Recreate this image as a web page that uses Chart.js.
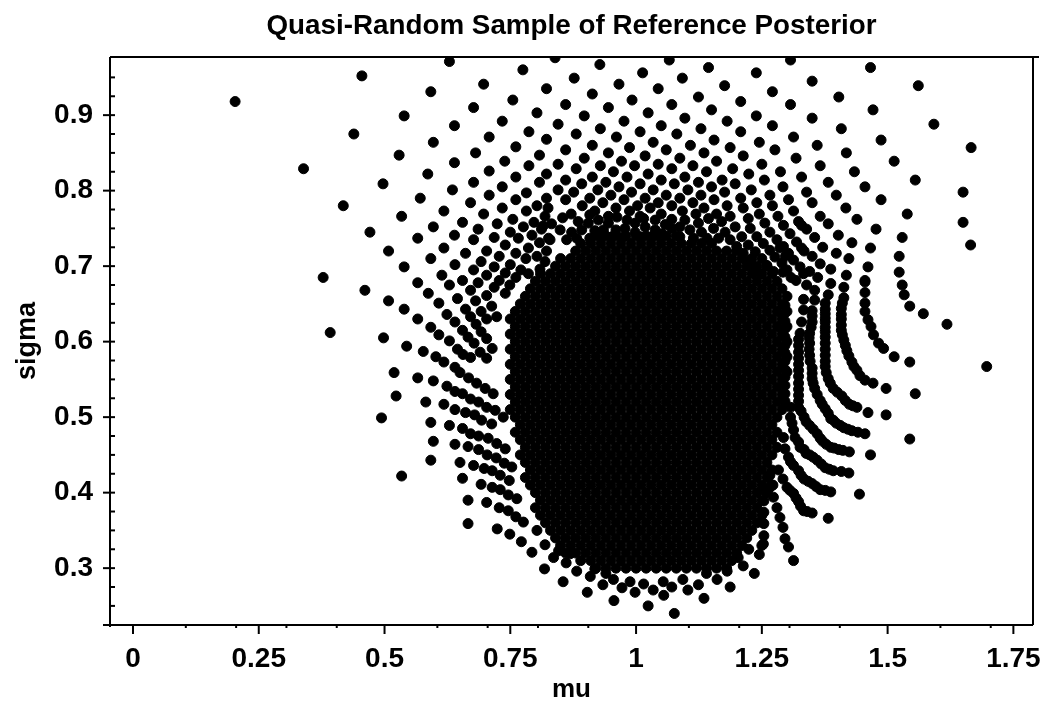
<!DOCTYPE html>
<html>
<head>
<meta charset="utf-8">
<style>
  html, body { margin: 0; padding: 0; background: #fff; }
  #wrap { width: 1048px; height: 703px; }
</style>
<script src="https://cdn.jsdelivr.net/npm/chart.js@4/dist/chart.umd.min.js"></script>
</head>
<body>
<div id="wrap"><canvas id="posteriorChart" width="1048" height="703"></canvas></div>
<script>
// axis ticks
const xMajorTicks = [0, 0.25, 0.5, 0.75, 1, 1.25, 1.5, 1.75];
const xMinorTicks = [0.105, 0.205, 0.305, 0.405, 0.605, 0.705, 0.805, 0.905, 1.105, 1.205, 1.305, 1.405, 1.605, 1.705];
const yMajorTicks = [0.3, 0.4, 0.5, 0.6, 0.7, 0.8, 0.9];
const yMinorTicks = [0.25, 0.275, 0.325, 0.35, 0.375, 0.425, 0.45, 0.475, 0.525, 0.55, 0.575, 0.625, 0.65, 0.675, 0.725, 0.75, 0.775, 0.825, 0.85, 0.875, 0.925, 0.95];

// upper left fringe
const muUpperLeft = [.203,.455,.629,.775,.697,.822,.592,.755,.677,.803,.539,.734,.639,.787,.439,.708,.822,.597,.761,.681,.529,.808,.739,.639,.787,.339,.708,.586,.822,.761,.677,.808,.497,.734,.635,.782,.708,.571,.761,.822,.671,.418,.734,.803,.782,.618,.697,.534,.819,.755,.797,.655,.724,.597,.776,.686,.812,.471,.750,.793,.639,.718,.566,.766,.677];
const sigmaUpperLeft = [.918,.952,.971,.960,.941,.935,.931,.920,.910,.903,.899,.892,.886,.878,.875,.871,.868,.864,.858,.850,.847,.847,.839,.837,.833,.829,.826,.822,.822,.818,.811,.811,.809,.805,.801,.797,.794,.790,.788,.790,.784,.780,.777,.780,.773,.773,.769,.766,.766,.762,.758,.758,.756,.752,.752,.749,.749,.745,.745,.741,.741,.738,.737,.737,.735];

// upper right fringe
const muUpperRight = [.839,.928,1.066,1.144,1.307,1.466,1.239,1.013,.877,1.092,1.350,.966,1.176,1.561,1.044,1.271,.913,1.403,1.124,.992,1.208,.860,1.071,1.307,.945,1.471,1.150,1.024,.897,1.239,1.097,1.350,.976,1.181,.845,1.592,1.050,1.271,.929,1.129,1.408,1.208,1.008,.881,1.081,.961,1.313,1.155,1.487,1.034,1.245,.913,1.108,1.360,1.666,.987,1.187,.860,1.060,1.276,.945,1.135,1.418,1.018,1.213,.897,1.087,1.318,.971,1.160,1.513,1.044,1.250,.845,.929,1.113,1.366,.997,1.192,.881,1.071,1.434,1.287,.955,1.140,1.024,1.224,.913,1.097,.982,1.329,1.171,1.050,1.555,.860,1.382,1.255,.940,1.124,1.008,1.076,1.197,.892,1.150,1.455,1.292,1.229,.966,1.034,.845,1.103,.924,1.176,1.339,1.650,.991,1.060,.876,1.398,1.266,1.129,.950,1.208,1.018,.908,1.155,1.487,1.303,1.087,.976,.860,1.044,1.240,1.350,1.113,.934,1.181,1.003,1.071,.893,1.417,.960,1.135,1.271,1.213,1.313,1.539,1.028,1.092,.918,.987,.871,1.160,1.245,1.050,1.366,1.119,.945,1.187,1.008,1.650,1.282,1.439,1.071];
const sigmaUpperRight = [.976,.967,.973,.963,.973,.963,.956,.956,.949,.949,.945,.941,.939,.939,.935,.931,.928,.924,.924,.920,.918,.914,.914,.914,.910,.907,.907,.903,.899,.899,.896,.896,.892,.892,.888,.888,.886,.886,.882,.882,.882,.878,.878,.875,.875,.871,.871,.867,.867,.864,.864,.860,.860,.860,.857,.857,.857,.854,.854,.854,.850,.850,.850,.846,.846,.843,.843,.843,.839,.839,.839,.835,.835,.835,.833,.833,.833,.833,.829,.829,.829,.825,.825,.825,.825,.822,.822,.818,.818,.818,.818,.814,.814,.814,.814,.811,.814,.811,.811,.809,.809,.809,.809,.805,.805,.805,.801,.805,.801,.801,.801,.801,.798,.798,.798,.798,.794,.798,.794,.794,.794,.794,.790,.790,.790,.788,.788,.788,.790,.788,.788,.784,.784,.784,.784,.784,.780,.780,.780,.780,.777,.777,.777,.780,.777,.773,.769,.777,.773,.773,.773,.769,.769,.769,.769,.766,.769,.766,.766,.766,.758,.766,.762,.762];

// band just above the solid mass
const muTopBand = [.825,.854,.908,.885,.832,.925,.815,.849,.872,.905,.892,.918,.962,.982,.945,.935,.960,1.015,.998,.978,1.038,1.018,.998,1.058,1.038,.826,.862,.882,.908,.932,.952,.975,1.008,1.031,1.051,1.071,1.223,1.256,1.097,1.124,1.144,1.170,1.087,1.107,1.130,1.154,1.177,1.197,1.227,1.266,1.293,1.329,1.306,1.240,1.210,1.187,1.164,1.141,1.114,1.087,1.280,1.319,1.253,1.223,1.200,1.293,1.266,1.237,1.213,1.329,1.303,1.276,1.250,1.227,1.313,1.290,1.260,1.237,1.326,1.300,1.273,1.247,1.333];
const sigmaTopBand = [.777,.764,.768,.759,.756,.761,.753,.748,.745,.757,.748,.747,.765,.761,.757,.748,.748,.763,.757,.750,.761,.752,.745,.755,.748,.737,.735,.737,.737,.739,.739,.739,.739,.739,.743,.750,.763,.757,.761,.757,.763,.759,.752,.748,.745,.750,.745,.752,.750,.745,.754,.754,.743,.739,.739,.735,.737,.737,.737,.739,.735,.732,.730,.728,.726,.726,.721,.719,.717,.724,.717,.712,.710,.708,.708,.704,.701,.699,.699,.695,.693,.690,.690];

// left fringe
const muLeft = [.508,.740,.618,.661,.703,.829,.808,.786,.822,.761,.728,.803,.592,.692,.781,.819,.640,.750,.718,.539,.677,.771,.740,.809,.786,.703,.614,.378,.655,.728,.761,.686,.566,.629,.749,.718,.671,.461,.587,.703,.645,.740,.681,.608,.508,.713,.539,.661,.692,.624,.671,.723,.566,.703,.640,.682,.592,.655,.692,.392,.608,.666,.703,.498,.629,.678,.544,.645,.714,.577,.656,.690,.602,.671,.703,.618,.640,.650,.667,.683,.700,.716,.519,.566,.597,.624,.640,.655,.671,.687,.703,.720,.736,.523,.582,.618,.640,.661,.679,.693,.713,.494,.592,.629,.655,.671,.687,.706,.723,.740,.597,.640,.666,.687,.704,.722,.738,.753,.592,.650,.677,.698,.714,.730,.748,.534,.655,.692,.714,.730,.746,.763,.666,.703,.728,.746,.761,.776,.666,.724,.749,.772,.793,.819,.836];
const sigmaLeft = [.720,.728,.724,.717,.720,.735,.731,.724,.720,.717,.713,.713,.710,.706,.710,.706,.702,.702,.699,.699,.695,.695,.691,.696,.690,.688,.688,.685,.681,.681,.685,.678,.678,.675,.675,.672,.668,.668,.664,.661,.657,.664,.654,.651,.654,.647,.643,.643,.640,.636,.633,.633,.630,.630,.626,.623,.619,.615,.613,.612,.609,.606,.604,.605,.601,.598,.594,.590,.591,.587,.583,.586,.580,.579,.578,.573,.566,.559,.552,.545,.538,.531,.559,.552,.548,.541,.534,.531,.524,.520,.513,.509,.500,.528,.520,.517,.510,.506,.503,.496,.491,.499,.493,.489,.485,.478,.475,.472,.465,.458,.468,.464,.461,.457,.450,.446,.439,.434,.443,.440,.436,.432,.429,.423,.416,.422,.419,.411,.407,.404,.397,.392,.390,.387,.380,.376,.368,.361,.359,.352,.345,.335,.321,.331,.314];

// bottom edge
const muBottom = [.818,.855,.861,.882,.903,.909,.934,.956,.972,.998,1.024,1.034,1.055,1.076,1.071,1.103,1.124,1.135,1.161,1.187,1.181,1.213,1.235,1.203,1.245,1.224,1.253,1.313,1.303,1.296,1.140,1.093,1.054,1.015,.988,.955,.940,.803,.846,.869,.918];
const sigmaBottom = [.299,.282,.307,.296,.268,.289,.278,.257,.274,.268,.250,.271,.264,.240,.275,.271,.278,.260,.285,.275,.296,.303,.293,.314,.318,.325,.332,.310,.328,.339,.293,.285,.282,.279,.282,.285,.293,.350,.323,.319,.299];

// right arcs
const muRight = [1.697,1.618,1.571,1.544,1.533,1.529,1.455,1.455,1.455,1.455,1.461,1.467,1.472,1.482,1.492,1.513,1.544,1.413,1.413,1.408,1.408,1.408,1.413,1.419,1.429,1.439,1.455,1.471,1.497,1.555,1.497,1.461,1.439,1.424,1.409,1.392,1.382,1.376,1.376,1.376,1.376,1.376,1.376,1.376,1.382,1.387,1.355,1.355,1.339,1.350,1.350,1.345,1.345,1.345,1.350,1.350,1.355,1.366,1.376,1.387,1.398,1.413,1.429,1.455,1.544,1.466,1.424,1.403,1.387,1.371,1.360,1.345,1.334,1.323,1.323,1.323,1.323,1.323,1.323,1.326,1.329,1.333,1.423,1.392,1.376,1.360,1.345,1.334,1.323,1.313,1.307,1.307,1.444,1.387,1.366,1.350,1.334,1.323,1.313,1.303,1.296,1.293,1.382,1.350,1.333,1.323,1.313,1.300,1.292,1.283,1.292,1.286,1.280,1.273,1.266,1.254,1.254,1.254,1.250];
const sigmaRight = [.567,.623,.637,.647,.662,.675,.679,.665,.651,.640,.629,.620,.609,.598,.591,.580,.573,.672,.658,.644,.630,.615,.602,.588,.573,.562,.549,.545,.538,.531,.503,.506,.513,.517,.528,.538,.551,.567,.582,.598,.613,.626,.637,.651,.662,.677,.655,.668,.675,.641,.626,.611,.598,.582,.565,.551,.538,.522,.511,.498,.492,.486,.482,.478,.471,.450,.454,.457,.460,.468,.478,.489,.500,.513,.529,.545,.562,.578,.595,.611,.626,.642,.426,.429,.433,.443,.450,.457,.467,.483,.500,.513,.398,.401,.404,.412,.418,.429,.436,.447,.458,.473,.366,.373,.376,.388,.399,.407,.418,.430,.354,.367,.380,.394,.407,.343,.359,.374,.330];

// more dots along the right arcs, they touch in the picture
const muArcs = [1.410,1.408,1.408,1.410,1.416,1.423,1.433,1.445,1.376,1.376,1.376,1.376,1.376,1.376,1.378,1.386,1.400,1.416,1.431,1.350,1.348,1.344,1.344,1.346,1.350,1.352,1.360,1.370,1.382,1.392,1.406,1.421,1.441,1.323,1.323,1.323,1.323,1.323,1.323,1.328,1.338,1.352,1.366,1.378,1.394,1.411,1.296,1.296,1.296,1.296,1.296,1.296,1.296,1.296,1.296,1.296,1.296,1.296,1.296,1.310,1.316,1.326,1.338,1.352,1.368,1.384,1.408,1.307,1.328,1.342,1.358,1.376,1.306,1.318,1.327,1.340,1.254,1.254,1.266,1.272];
const sigmaArcs = [.651,.636,.622,.609,.595,.581,.567,.555,.643,.631,.619,.606,.590,.574,.559,.545,.533,.522,.515,.634,.619,.605,.590,.574,.558,.545,.530,.517,.505,.496,.489,.484,.480,.603,.586,.570,.554,.537,.521,.508,.494,.484,.472,.464,.459,.456,.648,.638,.627,.617,.606,.595,.585,.574,.563,.553,.542,.531,.521,.492,.473,.460,.452,.447,.438,.431,.428,.441,.423,.415,.408,.403,.403,.393,.382,.375,.389,.403,.423,.410];

// upper right, outer dots
const muOuter = [1.665,1.382,1.323,1.477,1.402,1.529,1.339,1.355,1.429,1.371,1.466,1.334,1.398,1.523,1.286,1.350,1.423,1.297,1.366,1.461,1.387,1.523,1.345,1.292,1.308,1.361,1.418,1.455,1.318,1.333];
const sigmaOuter = [.728,.756,.759,.749,.741,.738,.749,.738,.731,.725,.724,.720,.717,.713,.724,.713,.710,.713,.703,.699,.696,.692,.693,.692,.685,.685,.688,.681,.681,.656];

// solid mass, one row of mu values per sigma level
const coreSigma = [.74,.73,.72,.71,.70,.69,.68,.67,.66,.65,.64,.63,.62,.61,.60,.59,.58,.57,.56,.55,.54,.53,.52,.51,.50,.49,.48,.47,.46,.45,.44,.43,.42,.41,.40,.39,.38,.37,.36,.35,.34,.33,.32,.31,.30];
const coreMu = [
  [.92,.94,.96,.98,1,1.02,1.04,1.06,1.08],
  [.89,.91,.93,.95,.97,.99,1.01,1.03,1.05,1.07,1.09,1.11,1.13,1.15],
  [.88,.9,.92,.94,.96,.98,1,1.02,1.04,1.06,1.08,1.1,1.12,1.14,1.16,1.18,1.2],
  [.85,.87,.89,.91,.93,.95,.97,.99,1.01,1.03,1.05,1.07,1.09,1.11,1.13,1.15,1.17,1.19,1.21,1.23],
  [.84,.86,.88,.9,.92,.94,.96,.98,1,1.02,1.04,1.06,1.08,1.1,1.12,1.14,1.16,1.18,1.2,1.22,1.24,1.26],
  [.81,.83,.85,.87,.89,.91,.93,.95,.97,.99,1.01,1.03,1.05,1.07,1.09,1.11,1.13,1.15,1.17,1.19,1.21,1.23,1.25,1.27],
  [.8,.82,.84,.86,.88,.9,.92,.94,.96,.98,1,1.02,1.04,1.06,1.08,1.1,1.12,1.14,1.16,1.18,1.2,1.22,1.24,1.26,1.28],
  [.79,.81,.83,.85,.87,.89,.91,.93,.95,.97,.99,1.01,1.03,1.05,1.07,1.09,1.11,1.13,1.15,1.17,1.19,1.21,1.23,1.25,1.27,1.29],
  [.78,.8,.82,.84,.86,.88,.9,.92,.94,.96,.98,1,1.02,1.04,1.06,1.08,1.1,1.12,1.14,1.16,1.18,1.2,1.22,1.24,1.26,1.28,1.3],
  [.77,.79,.81,.83,.85,.87,.89,.91,.93,.95,.97,.99,1.01,1.03,1.05,1.07,1.09,1.11,1.13,1.15,1.17,1.19,1.21,1.23,1.25,1.27,1.29],
  [.76,.78,.8,.82,.84,.86,.88,.9,.92,.94,.96,.98,1,1.02,1.04,1.06,1.08,1.1,1.12,1.14,1.16,1.18,1.2,1.22,1.24,1.26,1.28,1.3],
  [.75,.77,.79,.81,.83,.85,.87,.89,.91,.93,.95,.97,.99,1.01,1.03,1.05,1.07,1.09,1.11,1.13,1.15,1.17,1.19,1.21,1.23,1.25,1.27,1.29],
  [.76,.78,.8,.82,.84,.86,.88,.9,.92,.94,.96,.98,1,1.02,1.04,1.06,1.08,1.1,1.12,1.14,1.16,1.18,1.2,1.22,1.24,1.26,1.28,1.3],
  [.75,.77,.79,.81,.83,.85,.87,.89,.91,.93,.95,.97,.99,1.01,1.03,1.05,1.07,1.09,1.11,1.13,1.15,1.17,1.19,1.21,1.23,1.25,1.27,1.29],
  [.76,.78,.8,.82,.84,.86,.88,.9,.92,.94,.96,.98,1,1.02,1.04,1.06,1.08,1.1,1.12,1.14,1.16,1.18,1.2,1.22,1.24,1.26,1.28,1.3],
  [.75,.77,.79,.81,.83,.85,.87,.89,.91,.93,.95,.97,.99,1.01,1.03,1.05,1.07,1.09,1.11,1.13,1.15,1.17,1.19,1.21,1.23,1.25,1.27,1.29],
  [.76,.78,.8,.82,.84,.86,.88,.9,.92,.94,.96,.98,1,1.02,1.04,1.06,1.08,1.1,1.12,1.14,1.16,1.18,1.2,1.22,1.24,1.26,1.28,1.3],
  [.75,.77,.79,.81,.83,.85,.87,.89,.91,.93,.95,.97,.99,1.01,1.03,1.05,1.07,1.09,1.11,1.13,1.15,1.17,1.19,1.21,1.23,1.25,1.27,1.29],
  [.76,.78,.8,.82,.84,.86,.88,.9,.92,.94,.96,.98,1,1.02,1.04,1.06,1.08,1.1,1.12,1.14,1.16,1.18,1.2,1.22,1.24,1.26,1.28,1.3],
  [.75,.77,.79,.81,.83,.85,.87,.89,.91,.93,.95,.97,.99,1.01,1.03,1.05,1.07,1.09,1.11,1.13,1.15,1.17,1.19,1.21,1.23,1.25,1.27,1.29],
  [.76,.78,.8,.82,.84,.86,.88,.9,.92,.94,.96,.98,1,1.02,1.04,1.06,1.08,1.1,1.12,1.14,1.16,1.18,1.2,1.22,1.24,1.26,1.28],
  [.75,.77,.79,.81,.83,.85,.87,.89,.91,.93,.95,.97,.99,1.01,1.03,1.05,1.07,1.09,1.11,1.13,1.15,1.17,1.19,1.21,1.23,1.25,1.27,1.29],
  [.76,.78,.8,.82,.84,.86,.88,.9,.92,.94,.96,.98,1,1.02,1.04,1.06,1.08,1.1,1.12,1.14,1.16,1.18,1.2,1.22,1.24,1.26,1.28],
  [.75,.77,.79,.81,.83,.85,.87,.89,.91,.93,.95,.97,.99,1.01,1.03,1.05,1.07,1.09,1.11,1.13,1.15,1.17,1.19,1.21,1.23,1.25,1.27,1.29],
  [.76,.78,.8,.82,.84,.86,.88,.9,.92,.94,.96,.98,1,1.02,1.04,1.06,1.08,1.1,1.12,1.14,1.16,1.18,1.2,1.22,1.24,1.26,1.28],
  [.77,.79,.81,.83,.85,.87,.89,.91,.93,.95,.97,.99,1.01,1.03,1.05,1.07,1.09,1.11,1.13,1.15,1.17,1.19,1.21,1.23,1.25,1.27],
  [.76,.78,.8,.82,.84,.86,.88,.9,.92,.94,.96,.98,1,1.02,1.04,1.06,1.08,1.1,1.12,1.14,1.16,1.18,1.2,1.22,1.24,1.26,1.28],
  [.77,.79,.81,.83,.85,.87,.89,.91,.93,.95,.97,.99,1.01,1.03,1.05,1.07,1.09,1.11,1.13,1.15,1.17,1.19,1.21,1.23,1.25,1.27],
  [.78,.8,.82,.84,.86,.88,.9,.92,.94,.96,.98,1,1.02,1.04,1.06,1.08,1.1,1.12,1.14,1.16,1.18,1.2,1.22,1.24,1.26,1.28],
  [.77,.79,.81,.83,.85,.87,.89,.91,.93,.95,.97,.99,1.01,1.03,1.05,1.07,1.09,1.11,1.13,1.15,1.17,1.19,1.21,1.23,1.25,1.27],
  [.78,.8,.82,.84,.86,.88,.9,.92,.94,.96,.98,1,1.02,1.04,1.06,1.08,1.1,1.12,1.14,1.16,1.18,1.2,1.22,1.24,1.26],
  [.79,.81,.83,.85,.87,.89,.91,.93,.95,.97,.99,1.01,1.03,1.05,1.07,1.09,1.11,1.13,1.15,1.17,1.19,1.21,1.23,1.25,1.27],
  [.78,.8,.82,.84,.86,.88,.9,.92,.94,.96,.98,1,1.02,1.04,1.06,1.08,1.1,1.12,1.14,1.16,1.18,1.2,1.22,1.24,1.26],
  [.79,.81,.83,.85,.87,.89,.91,.93,.95,.97,.99,1.01,1.03,1.05,1.07,1.09,1.11,1.13,1.15,1.17,1.19,1.21,1.23,1.25,1.27],
  [.8,.82,.84,.86,.88,.9,.92,.94,.96,.98,1,1.02,1.04,1.06,1.08,1.1,1.12,1.14,1.16,1.18,1.2,1.22,1.24,1.26],
  [.81,.83,.85,.87,.89,.91,.93,.95,.97,.99,1.01,1.03,1.05,1.07,1.09,1.11,1.13,1.15,1.17,1.19,1.21,1.23,1.25],
  [.8,.82,.84,.86,.88,.9,.92,.94,.96,.98,1,1.02,1.04,1.06,1.08,1.1,1.12,1.14,1.16,1.18,1.2,1.22,1.24],
  [.81,.83,.85,.87,.89,.91,.93,.95,.97,.99,1.01,1.03,1.05,1.07,1.09,1.11,1.13,1.15,1.17,1.19,1.21,1.23,1.25],
  [.82,.84,.86,.88,.9,.92,.94,.96,.98,1,1.02,1.04,1.06,1.08,1.1,1.12,1.14,1.16,1.18,1.2,1.22,1.24],
  [.83,.85,.87,.89,.91,.93,.95,.97,.99,1.01,1.03,1.05,1.07,1.09,1.11,1.13,1.15,1.17,1.19,1.21,1.23],
  [.84,.86,.88,.9,.92,.94,.96,.98,1,1.02,1.04,1.06,1.08,1.1,1.12,1.14,1.16,1.18,1.2,1.22],
  [.85,.87,.89,.91,.93,.95,.97,.99,1.01,1.03,1.05,1.07,1.09,1.11,1.13,1.15,1.17,1.19,1.21],
  [.86,.88,.9,.92,.94,.96,.98,1,1.02,1.04,1.06,1.08,1.1,1.12,1.14,1.16,1.18,1.2],
  [.89,.91,.93,.95,.97,.99,1.01,1.03,1.05,1.07,1.09,1.11,1.13,1.15,1.17,1.19],
  [.92,.94,.96,.98,1,1.02,1.04,1.06,1.08,1.1,1.12,1.14,1.16,1.18]
];

// Build the point list from the arrays above
const points = [];
const groups = [
  [muUpperLeft, sigmaUpperLeft], [muUpperRight, sigmaUpperRight], [muTopBand, sigmaTopBand],
  [muLeft, sigmaLeft], [muBottom, sigmaBottom], [muRight, sigmaRight], [muArcs, sigmaArcs], [muOuter, sigmaOuter]
];
groups.forEach(([mu, sigma]) => {
  mu.forEach((m, i) => points.push({ x: m, y: sigma[i] }));
});
coreSigma.forEach((s, i) => {
  coreMu[i].forEach(m => points.push({ x: m, y: s }));
});

// Frame and tick marks, placed through the chart's own scales
const axisFrame = {
  id: 'axisFrame',
  afterDatasetsDraw(chart) {
    const { ctx, chartArea: a, scales: { x, y } } = chart;
    ctx.save();
    ctx.strokeStyle = '#000';
    ctx.lineWidth = 2;
    const line = (x1, y1, x2, y2) => {
      ctx.beginPath();
      ctx.moveTo(x1, y1);
      ctx.lineTo(x2, y2);
      ctx.stroke();
    };
    line(a.left, a.top, a.right + 6, a.top);
    line(a.right, a.top, a.right, a.bottom);
    line(a.left - 7, a.bottom, a.right, a.bottom);
    line(a.left, a.top, a.left, a.bottom + 2);
    xMajorTicks.forEach(v => line(x.getPixelForValue(v), a.bottom, x.getPixelForValue(v), a.bottom + 9));
    xMinorTicks.forEach(v => line(x.getPixelForValue(v), a.bottom, x.getPixelForValue(v), a.bottom + 3));
    yMajorTicks.forEach(v => line(a.left - 7, y.getPixelForValue(v), a.left + 5, y.getPixelForValue(v)));
    yMinorTicks.forEach(v => line(a.left, y.getPixelForValue(v), a.left + 5, y.getPixelForValue(v)));
    ctx.restore();
  }
};

new Chart(document.getElementById('posteriorChart'), {
  type: 'scatter',
  data: {
    datasets: [{
      data: points,
      backgroundColor: '#000000',
      borderColor: '#000000',
      borderWidth: 1,
      pointRadius: 5,
      pointStyle: 'circle'
    }]
  },
  options: {
    responsive: false,
    animation: false,
    layout: { padding: { right: 15 } },
    plugins: {
      legend: { display: false },
      tooltip: { enabled: false },
      title: {
        display: true,
        fullSize: false,
        text: 'Quasi\u2011Random Sample of Reference Posterior',
        color: '#000000',
        font: { family: '"Liberation Sans", Arial, sans-serif', size: 27.8, weight: 'bold', lineHeight: 1 },
        padding: { top: 12, bottom: 17.2 }
      }
    },
    scales: {
      x: {
        type: 'linear',
        min: -0.0457,
        max: 1.789,
        grid: { display: false, drawTicks: false },
        border: { display: false },
        afterFit: scale => { scale.height = 78; scale.paddingLeft = 0; scale.paddingRight = 0; },
        afterBuildTicks: scale => { scale.ticks = xMajorTicks.map(v => ({ value: v })); },
        ticks: {
          color: '#000000',
          padding: 17,
          maxRotation: 0,
          autoSkip: false,
          font: { family: '"Liberation Sans", Arial, sans-serif', size: 28, weight: 'bold' },
          callback: v => String(v)
        },
        title: {
          display: true,
          text: 'mu',
          color: '#000000',
          font: { family: '"Liberation Sans", Arial, sans-serif', size: 26, weight: 'bold', lineHeight: 1 },
          padding: { top: 0, bottom: 0 }
        }
      },
      y: {
        type: 'linear',
        min: 0.2247,
        max: 0.977,
        grid: { display: false, drawTicks: false },
        border: { display: false },
        afterFit: scale => { scale.width = 110; scale.paddingTop = 0; scale.paddingBottom = 0; },
        afterBuildTicks: scale => { scale.ticks = yMajorTicks.map(v => ({ value: v })); },
        ticks: {
          color: '#000000',
          padding: 17,
          autoSkip: false,
          font: { family: '"Liberation Sans", Arial, sans-serif', size: 28, weight: 'bold' },
          callback: v => String(v)
        },
        title: {
          display: true,
          text: 'sigma',
          color: '#000000',
          font: { family: '"Liberation Sans", Arial, sans-serif', size: 27, weight: 'bold', lineHeight: 1 },
          padding: { top: 14, bottom: 0 }
        }
      }
    }
  },
  plugins: [axisFrame]
});
</script>
</body>
</html>
